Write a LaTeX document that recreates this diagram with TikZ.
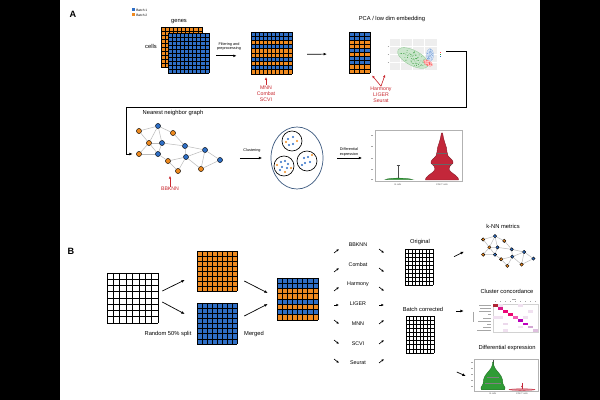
\documentclass[tikz,border=0pt]{standalone}
\usepackage{fontspec}
\setmainfont{Liberation Sans}
\usetikzlibrary{arrows.meta,positioning,fit,shapes.geometric,calc}

\definecolor{batchblue}{HTML}{2F6FC6}
\definecolor{batchorange}{HTML}{EF8A1F}
\definecolor{toolred}{HTML}{C9272E}
\definecolor{violred}{HTML}{C3273A}
\definecolor{violgreen}{HTML}{2F9B35}
\definecolor{clusline}{HTML}{3D5A80}

\tikzset{
  panel/.style={font=\bfseries\fontsize{6.5}{7}\selectfont, inner sep=0},
  lbl/.style={font=\fontsize{4.1}{4.8}\selectfont, inner sep=0, align=center},
  smalllbl/.style={font=\fontsize{2.7}{3.2}\selectfont, inner sep=0, align=center},
  legtxt/.style={font=\fontsize{2.3}{2.8}\selectfont, inner sep=0},
  axtxt/.style={font=\fontsize{1.6}{2}\selectfont, inner sep=0, text=black!70},
  toollbl/.style={font=\fontsize{3.7}{4.4}\selectfont, inner sep=0, align=center, text=toolred},
  arr/.style={-{Latex[length=2.4pt,width=2pt]}, line width=0.5pt},
  sarr/.style={-{Latex[length=1.8pt,width=1.6pt]}, line width=0.45pt},
  redarr/.style={-{Latex[length=2pt,width=1.8pt]}, line width=0.45pt, toolred},
  gridline/.style={line width=0.45pt, black},
  gnode/.style={circle, draw=black, line width=0.3pt, minimum size=3.6pt, inner sep=0},
  onode/.style={gnode, fill=batchorange},
  bnode/.style={gnode, fill=batchblue},
  edge/.style={gray!55, line width=0.35pt},
  odot/.style={circle, fill=batchorange, inner sep=0, minimum size=1.7pt},
  bdot/.style={circle, fill=batchblue, inner sep=0, minimum size=1.7pt},
  plotbox/.style={draw=gray!60, line width=0.3pt, inner sep=0},
  placeholder/.style={gray!70, line width=0.35pt},
}

% grid of cells: name, x, y, width, height, columns, rows, row colours
\newcommand{\cellgrid}[8]{%
  \edef\gridcols{#8}%
  \foreach \rc [count=\ri from 0] in \gridcols
    \fill[\rc] ({#2},{#3+\ri*(#5)/(#7)}) rectangle ++({#4},{(#5)/(#7)});
  \foreach \i in {0,...,#6}
    \draw[gridline] ({#2+\i*(#4)/(#6)},{#3}) -- ++(0,{#5});
  \foreach \j in {0,...,#7}
    \draw[gridline] ({#2},{#3+\j*(#5)/(#7)}) -- ++({#4},0);
  \coordinate (#1-nw) at ({#2},{#3});
  \coordinate (#1-se) at ({#2+#4},{#3+#5});
  \node[inner sep=0, fit=(#1-nw)(#1-se)] (#1) {};
}

% nearest neighbour graph: name prefix, node size
\newcommand{\nngraph}[2]{%
  \foreach \n/\gx/\gy/\t in {1/139/131/onode, 2/158/126/bnode, 3/173/133/onode,
      4/149/143/onode, 5/162/143/bnode, 6/185/146/bnode, 7/205/150/bnode,
      8/139/154/onode, 9/158/154/bnode, 10/168/161/onode, 11/186/157/bnode,
      12/220/160/bnode, 13/178/171/onode, 14/201/169/onode}
    \node[\t, minimum size=#2] (#1\n) at (\gx,\gy) {};
  \foreach \ea/\eb in {1/2, 1/4, 2/3, 2/4, 2/5, 3/6, 4/5, 4/8, 4/9, 5/6, 5/9,
      6/7, 6/11, 7/11, 7/12, 7/14, 8/9, 9/10, 10/11, 10/13, 11/13, 11/14, 12/14}
    \draw[edge] (#1\ea) -- (#1\eb);
}

\def\tenB{batchblue,batchblue,batchblue,batchblue,batchblue,batchblue,batchblue,batchblue,batchblue,batchblue}
\def\tenO{batchorange,batchorange,batchorange,batchorange,batchorange,batchorange,batchorange,batchorange,batchorange,batchorange}
\def\eightB{batchblue,batchblue,batchblue,batchblue,batchblue,batchblue,batchblue,batchblue}
\def\eightO{batchorange,batchorange,batchorange,batchorange,batchorange,batchorange,batchorange,batchorange}
\def\eightW{white,white,white,white,white,white,white,white}
\def\nineW{white,white,white,white,white,white,white,white,white}

\begin{document}
\begin{tikzpicture}[x=0.025cm, y=-0.025cm]
\useasboundingbox (0,0) rectangle (600,400);
\fill[black] (0,0) rectangle (600,400);
\fill[white] (60,0) rectangle (540,400);

%% ---------------- A ----------------
\node[panel] (labA) at (73,14) {A};
\fill[batchblue] (131.5,8.5) rectangle ++(3,3);
\fill[batchorange] (131.5,13.5) rectangle ++(3,3);
\node[legtxt, anchor=west] (leg1) at (136,10) {Batch 1};
\node[legtxt, anchor=west] (leg2) at (136,15) {Batch 2};

% raw matrices
\cellgrid{back}{161}{27}{41}{40}{10}{10}{\tenO}
\cellgrid{front}{168}{33}{41}{40}{10}{10}{\tenB}
\node[lbl] (genes) at (179,22) {genes};
\node[lbl] (cells) at (151,46) {cells};

% filtered matrix
\cellgrid{mixed}{251}{32}{41}{42}{10}{10}{batchblue,batchblue,batchorange,batchblue,batchorange,batchorange,batchblue,batchorange,batchblue,batchorange}
\node[smalllbl] (filt) at (229,46.5) {Filtering and\\preprocessing};
\draw[arr, shorten <=5pt, shorten >=10pt] ([yshift=-2pt]front.east) -- ([yshift=-2pt]mixed.west);
\node[toollbl] (corr1) at (266,93.5) {MNN\\Combat\\SCVI};
\draw[redarr, shorten >=2pt] (corr1.north) -- (corr1.north |- mixed.south);

\node[lbl] (pca) at (392,19) {PCA / low dim embedding};
\cellgrid{embed}{349}{32}{21}{41}{4}{10}{batchblue,batchblue,batchorange,batchorange,batchblue,batchorange,batchblue,batchblue,batchorange,batchorange}
\draw[arr, shorten <=10.5pt, shorten >=15.5pt] ([yshift=-1pt]mixed.east) -- ([yshift=-1pt]embed.west);

% scatter of the embedding
\coordinate (scat-nw) at (386,37);
\coordinate (scat-se) at (446,72);
\node[inner sep=0, fit=(scat-nw)(scat-se)] (scat) {};
\fill[gray!13] (390,39) rectangle (437,70);
\foreach \gy in {46,54,62} \draw[white, line width=0.3pt] (390,\gy) -- (437,\gy);
\foreach \gx in {400,412,424} \draw[white, line width=0.3pt] (\gx,39) -- (\gx,70);
\foreach \gy in {46,54,62} \draw[gray!70, line width=0.2pt] (387.5,\gy) -- (389,\gy);
\pgfmathsetseed{7}
\begin{scope}[shift={(413,58)}, rotate=-28]
  \filldraw[violgreen!25, draw=violgreen!55, line width=0.25pt] (0,0) ellipse (17 and 7.5);
  \foreach \k in {1,...,70}{
    \pgfmathsetmacro\rad{sqrt(rnd)}
    \pgfmathsetmacro\ang{360*rnd}
    \fill[violgreen] ({15*\rad*cos(\ang)},{6.5*\rad*sin(\ang)}) circle (0.28pt);
  }
\end{scope}
\begin{scope}[shift={(430,55)}]
  \filldraw[batchblue!20, draw=batchblue!50, line width=0.2pt] (0,0) ellipse (3.5 and 6.5);
  \foreach \k in {1,...,30}{
    \pgfmathsetmacro\rad{sqrt(rnd)}
    \pgfmathsetmacro\ang{360*rnd}
    \fill[batchblue!80] ({3*\rad*cos(\ang)},{6*\rad*sin(\ang)}) circle (0.28pt);
  }
\end{scope}
\begin{scope}[shift={(428,63)}, rotate=-30]
  \filldraw[red!20, draw=red!50, line width=0.2pt] (0,0) ellipse (5 and 2.5);
  \foreach \k in {1,...,25}{
    \pgfmathsetmacro\rad{sqrt(rnd)}
    \pgfmathsetmacro\ang{360*rnd}
    \fill[red!75] ({4.5*\rad*cos(\ang)},{2.2*\rad*sin(\ang)}) circle (0.28pt);
  }
\end{scope}
\foreach \ly/\lc in {52/red!70, 54/violgreen, 56/batchblue}
  \fill[\lc] (440,\ly) rectangle ++(1.4,1.2);

\node[toollbl] (corr2) at (381,94.5) {Harmony\\LIGER\\Seurat};
\draw[redarr, shorten >=2pt] (corr2.north) -- (embed.south east);
\draw[redarr, shorten >=2pt] (corr2.north) -- (scat-nw |- scat-se);

% back to the graph
\coordinate (turnR) at (466,107);
\coordinate (turnL) at (126,107);
\nngraph{g}{3.6pt}
\draw[arr, shorten >=2.5pt] ([yshift=2pt]scat.east) -| (turnR) -- (turnL) |- (g8);
\node[lbl] (nntitle) at (173,113) {Nearest neighbor graph};
\node[inner sep=0, fit=(g1)(g12)(g13)] (graph) {};
\node[toollbl] (bbknn) at (170,189) {BBKNN};
\draw[redarr, shorten >=1.5pt] (bbknn.north) -- (bbknn.north |- g13.south);

% clustering
\node[ellipse, draw=clusline, line width=0.5pt, minimum width=1.3cm, minimum height=1.55cm, inner sep=0] (clus) at (297,158) {};
\node[circle, draw=black, line width=0.45pt, minimum size=0.5cm, inner sep=0] (cl1) at (292,141) {};
\node[circle, draw=black, line width=0.45pt, minimum size=0.5cm, inner sep=0] (cl2) at (284,166) {};
\node[circle, draw=black, line width=0.45pt, minimum size=0.5cm, inner sep=0] (cl3) at (307,161) {};
\foreach \dx/\dy in {288/139, 293/137, 293/144, 289/145}
  \node[bdot] at (\dx,\dy) {};
\foreach \dx/\dy in {297/141, 286/142}
  \node[odot] at (\dx,\dy) {};
\foreach \dx/\dy in {281/162, 285/161, 288/164, 282/167, 287/168, 280/170}
  \node[bdot] at (\dx,\dy) {};
\foreach \dx/\dy in {277/165, 285/172, 291/168}
  \node[odot] at (\dx,\dy) {};
\foreach \dx/\dy in {304/158, 308/157, 305/163, 310/162, 302/165}
  \node[bdot] at (\dx,\dy) {};
\foreach \dx/\dy in {312/155}
  \node[odot] at (\dx,\dy) {};
\node[smalllbl] (clustxt) at (252,151) {Clustering};
\draw[arr, shorten <=12pt, shorten >=6pt] (graph.east |- clus.west) -- (clus.west);

% violin plot
\coordinate (vio-nw) at (375,130);
\coordinate (vio-se) at (462,181);
\node[plotbox, fit=(vio-nw)(vio-se)] (vio) {};
\node[smalllbl] (detxt) at (349,152) {Differential\\expression};
\draw[arr, shorten <=10pt, shorten >=9pt] (clus.east) -- (clus.east -| vio.west);
\foreach \vy in {135,146,158,169,179}
  \draw[gray!70, line width=0.2pt] (371,\vy) -- (373,\vy);
\draw[black!70, line width=0.3pt] (398,165) -- (398,179) (396.5,165) -- (399.5,165);
\filldraw[violgreen, draw=violgreen!70!black, line width=0.2pt] (385,179.6) .. controls (390,177.6) and (406,177.6) .. (413,179.6) -- cycle;
\filldraw[violred, draw=violred!70!black, line width=0.3pt] plot[smooth] coordinates {
  (441.5,133) (440,140) (437.5,148) (437,152) (436,156) (432,160) (431,163)
  (434,166) (435,169) (433,172) (429,175) (426,178) (425.5,180)}
  -- plot[smooth] coordinates {(458.5,180) (458,178) (455,175) (451,172) (449,169)
  (450,166) (453,163) (452,160) (448,156) (447,152) (446.5,148) (444,140) (442.5,133)} -- cycle;
\draw[black!60, line width=0.25pt] (437,153) -- (447,153) (432,164) -- (452,164);
\node[axtxt] (vx1) at (398,185) {B cells};
\node[axtxt] (vx2) at (442,185) {CD8 T cells};

%% ---------------- B ----------------
\node[panel] (labB) at (71,251) {B};
\cellgrid{raw}{107}{273}{51}{50}{8}{8}{\eightW}
\cellgrid{orng}{197}{251}{40}{40}{8}{8}{\eightO}
\cellgrid{blu}{197}{303}{40}{41}{8}{8}{\eightB}
\cellgrid{merged}{277}{278}{41}{42}{8}{8}{batchblue,batchblue,batchorange,batchorange,batchblue,batchorange,batchblue,batchorange}
\node[lbl] (splittxt) at (168,334) {Random 50\% split};
\node[lbl] (mergetxt) at (254,334) {Merged};
\draw[arr] ([shift={(4,-7)}]raw.east) -- ([shift={(-12,9)}]orng.west);
\draw[arr] ([shift={(4,4)}]raw.east) -- ([shift={(-12,-9.5)}]blu.west);
\draw[arr] ([shift={(7,10)}]orng.east) -- ([shift={(-9,-6)}]merged.west);
\draw[arr] ([shift={(7,-7.5)}]blu.east) -- ([shift={(-9,5)}]merged.west);

% methods
\foreach \nm/\ly/\ay/\d [count=\mi] in {BBKNN/245/251/1, Combat/265/270/1, Harmony/284/289/1,
    LIGER/304/305/0, MNN/324/322/-1, SCVI/344/342/-1, Seurat/363/361/-1}{
  \node[lbl, font=\fontsize{3.8}{4.4}\selectfont] (meth\mi) at (358,\ly) {\nm};
  \draw[sarr] ([shift={(-24,{\ay-\ly+2*\d})}]meth\mi.center) -- ++(5,{-4*\d});
  \draw[sarr] ([shift={(21,{\ay-\ly-2*\d})}]meth\mi.center) -- ++(5,{4*\d});
}

\node[lbl] (origtxt) at (420,242) {Original};
\cellgrid{orig}{405}{249}{28}{36}{8}{9}{\nineW}
\node[lbl] (bctxt) at (423,309) {Batch corrected};
\cellgrid{bc}{406}{316}{28}{37}{8}{9}{\nineW}

% k-NN metrics
\node[lbl] (knntxt) at (503,226) {k-NN metrics};
\begin{scope}[shift={(397,153)}, xscale=0.62, yscale=0.66]
  \nngraph{k}{2.4pt}
\end{scope}
\node[inner sep=0, fit=(k1)(k12)(k13)] (knn) {};
\draw[arr] ([shift={(-27,4)}]knn.west) -- ([shift={(-17,-1)}]knn.west);

% cluster concordance
\node[lbl] (cctxt) at (507,291) {Cluster concordance};
\coordinate (heat-nw) at (493,304);
\coordinate (heat-se) at (538,332);
\node[plotbox, draw=gray!35, fit=(heat-nw)(heat-se)] (heat) {};
\foreach \hc/\hr/\hcol in {0/0/violred!90!black, 1/1/violred!60!magenta, 2/2/magenta!80!red,
    3/3/magenta!75!red, 4/4/magenta!65, 5/5/violet!55!magenta, 6/6/violet!50!magenta,
    7/7/violet!35, 8/8/violet!25,
    1/0/violet!12, 5/0/violet!12, 7/2/violet!12, 0/4/violet!12, 1/4/violet!12,
    2/6/violet!15, 6/4/violet!12, 2/8/violet!12, 5/7/violet!10}
  \fill[\hcol] ({493+\hc*5},{304+\hr*3.1}) rectangle ++(4.6,2.8);
\foreach \hr/\hl in {0/12, 1/11, 2/12, 3/3, 4/8, 5/13, 6/4, 7/8, 8/14}
  \draw[placeholder] ({491-\hl},{305.4+\hr*3.1}) -- (491,{305.4+\hr*3.1});
\foreach \hc in {0,...,8}
  \draw[placeholder] ({495.3+\hc*5},301.5) -- ++(0,1);
\draw[placeholder] (512,299) -- (516,299);
\draw[placeholder] (473,312) -- (473,322);
\draw[arr] ([shift={(-37,-7)}]heat.west) -- ([shift={(-29,-7)}]heat.west);

% differential expression
\node[lbl] (detitle) at (507,348) {Differential expression};
\coordinate (vb-nw) at (474,359);
\coordinate (vb-se) at (538,391);
\node[plotbox, fit=(vb-nw)(vb-se)] (viob) {};
\foreach \vy in {362,368,374,380,386}
  \draw[gray!70, line width=0.2pt] (471,\vy) -- (473,\vy);
\draw[black!70, line width=0.25pt] (493,360) -- (493,366);
\filldraw[violgreen, draw=violgreen!70!black, line width=0.25pt] plot[smooth] coordinates {
  (492.7,362) (492,366) (490.5,369) (488,372) (485,376) (483.5,380) (483,384) (481,387.5) (481.5,389.8)}
  -- plot[smooth] coordinates {(504.5,389.8) (505,387.5) (503,384) (502.5,380) (501,376)
  (498,372) (495.5,369) (494,366) (493.3,362)} -- cycle;
\draw[black!50, line width=0.2pt] (487,377) -- (499,377) (485,383) -- (501,383);
\filldraw[violred!60, draw=violred, line width=0.2pt] (522,389.6) ellipse (13 and 0.8);
\draw[violred, line width=0.3pt] (522,383) -- (522,389);
\fill[violred] (522,386.5) circle (0.6pt);
\node[axtxt] (vbx1) at (493,394) {B cells};
\node[axtxt] (vbx2) at (522,394) {CD8 T cells};
\draw[arr] ([shift={(-17,-3)}]viob.west) -- ([shift={(-8,1)}]viob.west);
\end{tikzpicture}
\end{document}
